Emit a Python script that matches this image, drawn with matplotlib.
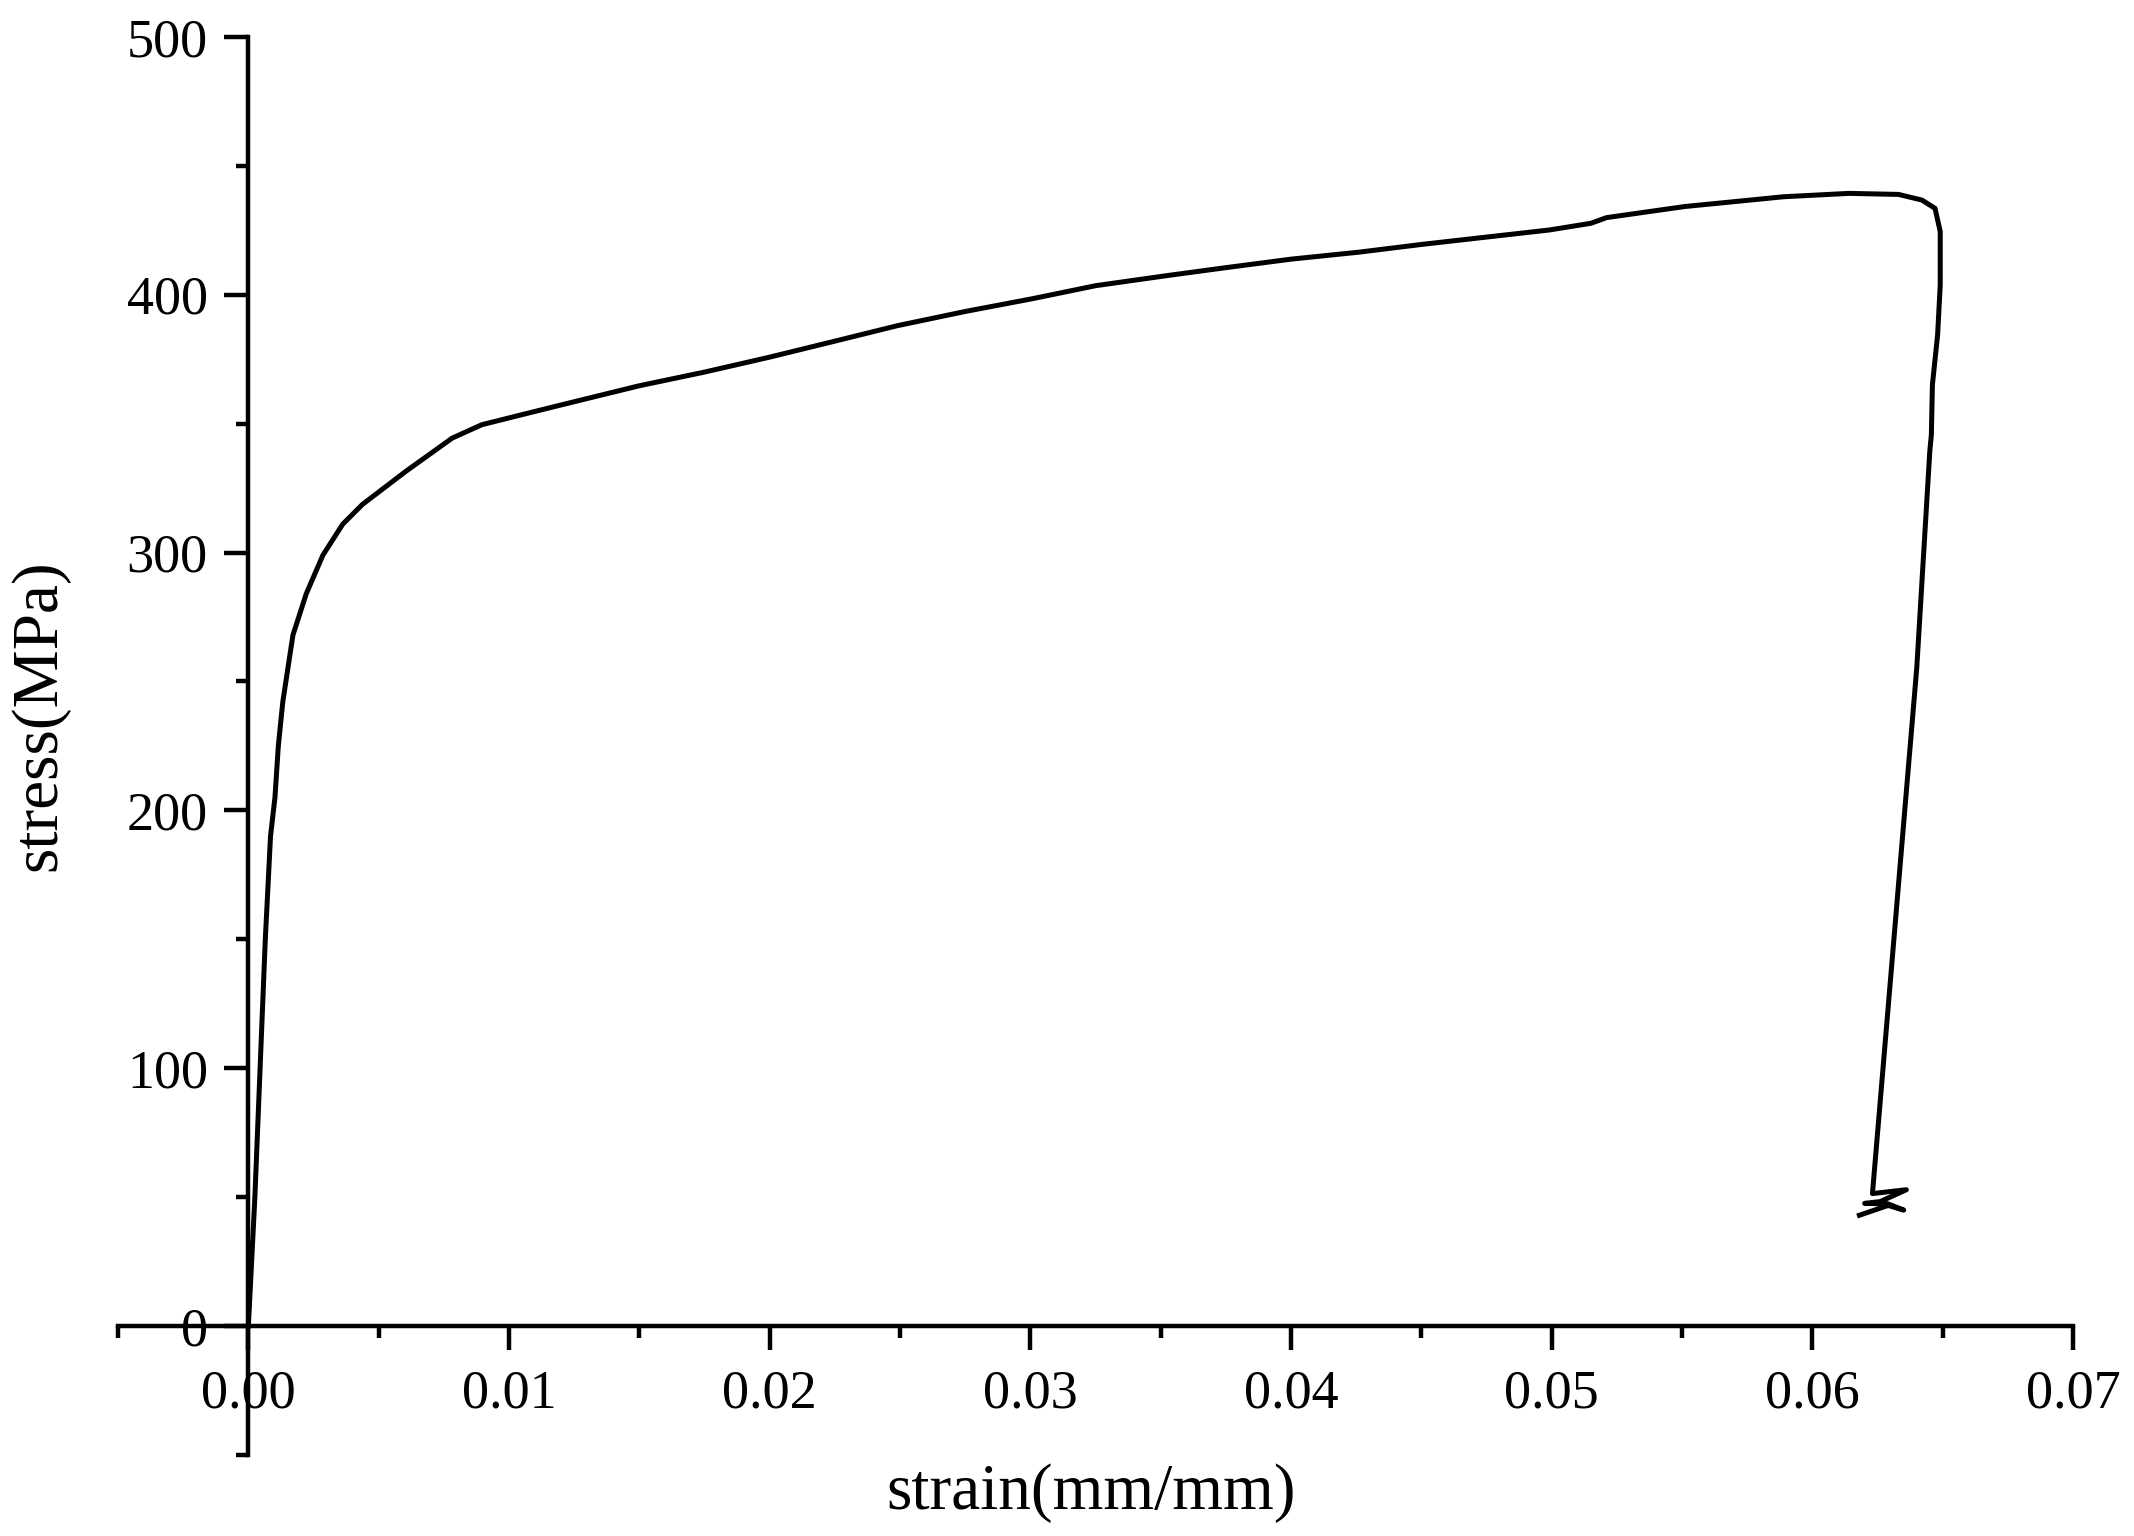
import matplotlib
matplotlib.use('Agg')
import matplotlib.pyplot as plt
from matplotlib.ticker import MultipleLocator

plt.rcParams['font.family'] = 'Liberation Serif'

# values
strain = [0, 0.00025, 0.00045, 0.00065, 0.00085, 0.00102, 0.00115, 0.00132, 0.00171,
          0.00222, 0.00286, 0.00362, 0.00438, 0.00604, 0.00782, 0.00896, 0.01074,
          0.0125, 0.0150, 0.0175, 0.0200, 0.0225, 0.0249, 0.0275, 0.0301, 0.0325,
          0.0353, 0.0375, 0.0400, 0.0426, 0.0450, 0.0499, 0.0515, 0.0521,
          0.0551, 0.0589, 0.0614, 0.0633, 0.0642, 0.0647, 0.0649, 0.0649, 0.0648,
          0.0646, 0.06456, 0.0645, 0.0640, 0.0623,
          0.0636, 0.0626, 0.0620, 0.0629, 0.0635, 0.0629, 0.0618]
stress = [0, 50, 100, 150, 190, 205, 225, 242, 268,
          284, 299, 311, 318.7, 331.5, 344.4, 349.6, 354.1,
          358.5, 364.7, 370, 375.8, 382, 388, 393.5, 398.5, 403.5,
          407.5, 410.5, 413.8, 416.5, 419.5, 425.1, 427.7, 429.9,
          434.2, 438.0, 439.3, 438.9, 436.7, 433.5, 424.5, 403.8, 384.5,
          365.1, 345.7, 339.3, 255.3, 51.4,
          52.9, 48.3, 47.6, 47.4, 45.0, 46.8, 43.0]

fig = plt.figure(figsize=(10.67, 7.68), dpi=200)
ax = fig.add_axes([0.0553, 0.0527, 0.9162, 0.9233])

ax.plot(strain, stress, color='black', lw=1.8, solid_joinstyle='round')

ax.set_xlim(-0.005, 0.07)
ax.set_ylim(-50, 500)

# origin-style axes crossing at zero
ax.spines['left'].set_position(('data', 0))
ax.spines['bottom'].set_position(('data', 0))
ax.spines['top'].set_visible(False)
ax.spines['right'].set_visible(False)
for s in ['left', 'bottom']:
    ax.spines[s].set_linewidth(1.6)

ax.xaxis.set_major_locator(MultipleLocator(0.01))
ax.xaxis.set_minor_locator(MultipleLocator(0.005))
ax.yaxis.set_major_locator(MultipleLocator(100))
ax.yaxis.set_minor_locator(MultipleLocator(50))
ax.xaxis.set_major_formatter(plt.FuncFormatter(lambda v, p: f"{v:.2f}"))
ax.yaxis.set_major_formatter(plt.FuncFormatter(lambda v, p: f"{v:.0f}"))

ax.tick_params(which='major', direction='out', length=8.6, width=1.6, labelsize=19.5, pad=6)
ax.tick_params(which='minor', direction='out', length=4.2, width=1.6)
ax.tick_params(axis='x', which='major', pad=7)

ax.set_xlabel('strain(mm/mm)', fontsize=23.5, va='center')
ax.set_ylabel('stress(MPa)', fontsize=23.5, va='center')
ax.xaxis.set_label_coords(0.4977, -0.027)
ax.yaxis.set_label_coords(-0.040, 0.522)

fig.savefig('out.png', dpi=200)
